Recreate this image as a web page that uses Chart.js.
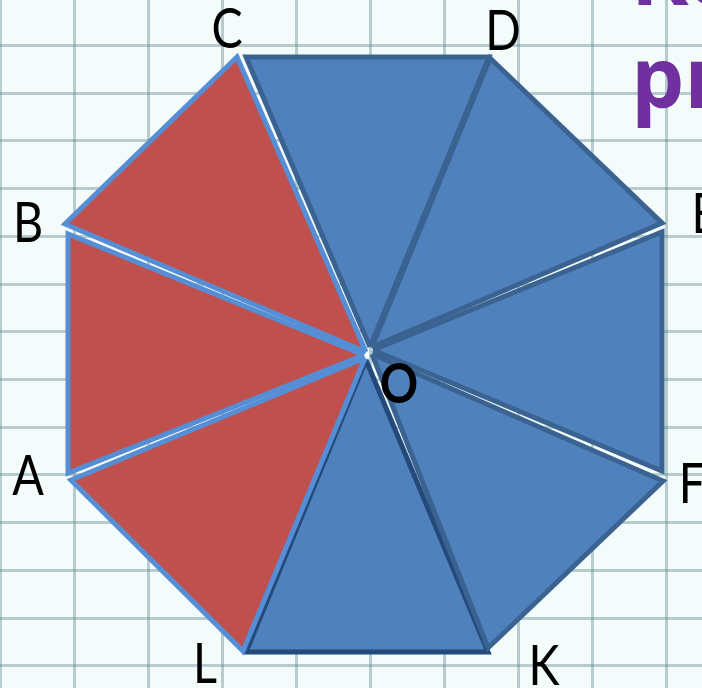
<!DOCTYPE html>
<html><head><meta charset="utf-8">
<script src="https://cdn.jsdelivr.net/npm/chart.js@4.4.1/dist/chart.umd.min.js"></script>
<style>html,body{margin:0;padding:0;background:#F3FBFB;overflow:hidden}canvas{display:block}</style>
</head><body><canvas id="c" width="702" height="688"></canvas>
<script>
// Octagon split into 8 triangles around centre O (red: OCB, OBA, OAL; blue: the rest)
const sectors = ['OCB', 'OBA', 'OAL', 'OCD', 'ODE', 'OEF', 'OFK', 'OKL'];
const sectorX = [
  [366, 237, 65, 366],
  [364, 68, 68, 364],
  [365, 71, 243, 365],
  [370, 246, 489, 370],
  [372, 490, 662, 372],
  [373, 662, 662, 373],
  [372, 663, 488, 372],
  [366, 488, 246, 366]
];
const sectorY = [
  [352, 57, 224, 352],
  [355, 234, 473, 355],
  [358, 480, 651, 358],
  [347, 57, 57, 347],
  [347, 58, 223, 347],
  [350, 232, 471, 350],
  [354, 481, 648, 354],
  [360, 652, 652, 360]
];
const sectorFill = ['#C0504D', '#C0504D', '#C0504D', '#4F81BD', '#4F81BD', '#4F81BD', '#4F81BD', '#4F81BD'];
const sectorEdge = ['#558ED5', '#558ED5', '#558ED5', '#3A6391', '#3A6391', '#3A6391', '#3A6391', '#24497B'];
const sectorEdgeWidth = [5, 5, 5, 5, 5, 5, 5, 5];

// Vertex labels (centre x, baseline y)
const vertexLabels = ['C', 'D', 'B', 'E', 'A', 'F', 'L', 'K'];
const vertexLabelX = [227, 503, 28, 705, 28, 692, 205, 544];
const vertexLabelY = [48, 50, 242, 233, 495, 503, 683, 685];
const centerLabel = ['O'];
const centerLabelX = [399];
const centerLabelY = [403];

// Cut-off purple heading in the corner
const headingLines = ['Ко', 'ри'];
const headingX = [631, 631];
const headingY = [5, 108];

// Background squared paper
const gridX = [0, 74, 148, 222, 296, 370, 444, 518, 592, 666];
const gridY = [-3, 45, 93, 140, 188, 236, 284, 331, 379, 427, 474, 522, 570, 618, 665];

const datasets = sectors.map((name, i) => ({
  label: name,
  data: sectorX[i].map((x, j) => ({x: x, y: sectorY[i][j]})),
  showLine: true,
  fill: 'shape',
  backgroundColor: sectorFill[i],
  borderColor: sectorEdge[i],
  borderWidth: sectorEdgeWidth[i],
  borderJoinStyle: 'miter',
  tension: 0,
  pointRadius: 0,
  pointHoverRadius: 0
}));

function condensedText(ctx, t, px, py, sx) {
  ctx.save();
  ctx.translate(px, py);
  ctx.scale(sx, 1);
  ctx.fillText(t, 0, 0);
  ctx.restore();
}

const textPlugin = {
  id: 'texts',
  afterDatasetsDraw(chart) {
    const {ctx, scales: {x, y}} = chart;
    ctx.save();
    ctx.textBaseline = 'alphabetic';
    ctx.fillStyle = '#000';
    ctx.textAlign = 'center';
    ctx.font = '400 57px Lato';
    vertexLabels.forEach((t, i) => {
      condensedText(ctx, t, x.getPixelForValue(vertexLabelX[i]), y.getPixelForValue(vertexLabelY[i]), 0.82);
    });
    ctx.font = '700 56px Lato';
    centerLabel.forEach((t, i) => {
      condensedText(ctx, t, x.getPixelForValue(centerLabelX[i]), y.getPixelForValue(centerLabelY[i]), 0.85);
    });
    ctx.textAlign = 'left';
    ctx.fillStyle = '#7030A0';
    ctx.font = '700 84px "Noto Sans"';
    headingLines.forEach((t, i) => {
      ctx.fillText(t, x.getPixelForValue(headingX[i]), y.getPixelForValue(headingY[i]));
    });
    ctx.restore();
  }
};

const gridOpts = {
  color: 'rgba(85,130,135,0.38)',
  lineWidth: 3,
  drawTicks: false
};

new Chart(document.getElementById('c'), {
  type: 'scatter',
  data: {datasets},
  options: {
    responsive: false,
    devicePixelRatio: 1,
    animation: false,
    events: [],
    layout: {padding: 0},
    plugins: {legend: {display: false}, tooltip: {enabled: false}, title: {display: false}},
    scales: {
      x: {
        type: 'linear', min: 0, max: 702,
        ticks: {display: false},
        border: {display: false},
        grid: gridOpts,
        afterBuildTicks: s => { s.ticks = gridX.map(v => ({value: v})); }
      },
      y: {
        type: 'linear', min: 0, max: 688, reverse: true,
        ticks: {display: false},
        border: {display: false},
        grid: gridOpts,
        afterBuildTicks: s => { s.ticks = gridY.map(v => ({value: v})); }
      }
    }
  },
  plugins: [textPlugin]
});
</script>
</body></html>
